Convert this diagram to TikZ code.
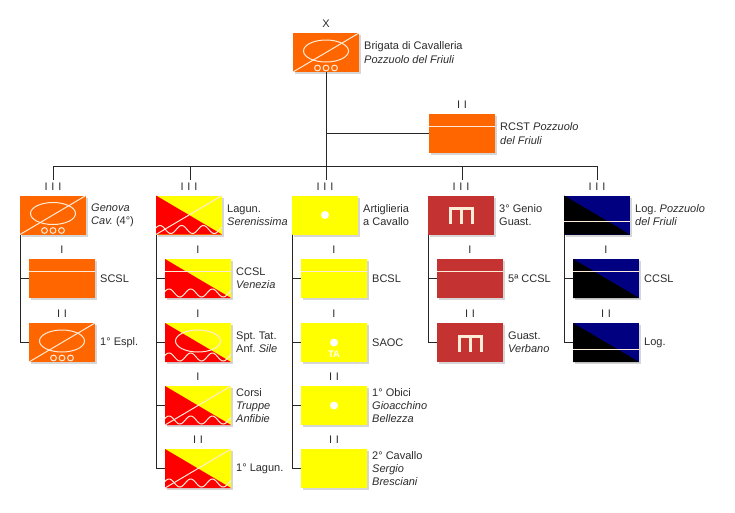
\documentclass[tikz,border=0pt]{standalone}
\usepackage{fontspec}
\setmainfont{Liberation Sans}
\definecolor{cavorange}{HTML}{FF6600}
\definecolor{lagred}{HTML}{FF0000}
\definecolor{artyellow}{HTML}{FFFF00}
\definecolor{genred}{HTML}{C43232}
\definecolor{lognavy}{HTML}{000080}
\definecolor{signline}{HTML}{FFECD8}
\definecolor{inktext}{HTML}{2B2B2B}
\newcommand{\echfont}{\fontsize{11}{13.4}\selectfont\spaceskip 3.8pt\relax}
\newcommand{\txtfont}{\fontsize{11}{13.4}\selectfont\frenchspacing}
\tikzset{
  unitbox/.style={minimum width=66pt,minimum height=39pt,inner sep=0pt,outer sep=0pt,fill=#1},
  shadowbox/.style={fill=black!16,minimum width=66pt,minimum height=39pt,inner sep=0pt,outer sep=0pt},
  unittext/.style={align=left,anchor=west,inner sep=0pt,text=inktext,font=\txtfont},
  echtext/.style={inner sep=0pt,text=inktext,font=\echfont},
  sign/.style={signline,line width=1pt},
  link/.style={black!85,line width=1pt}
}
% name, x, y, colour, echelon, text
\newcommand{\unitnode}[6]{
  \node[shadowbox] (#1-s) at ({#2+2},{#3+2}) {};
  \node[unitbox=#4] (#1) at (#2,#3) {};
  \node[echtext] (#1-e) at (#2,{#3-28.5}) {#5};
  \node[unittext] (#1-t) at ([xshift=5pt]#1.east) {#6};
}
\newcommand{\signdiag}[1]{\draw[sign] (#1.south west) -- (#1.north east);}
\newcommand{\signbar}[2]{\draw[sign] ([yshift=-#2pt]#1.north west) -- ([yshift=-#2pt]#1.north east);}
\newcommand{\signoval}[1]{\draw[sign] ([yshift=1.5pt]#1.center) ellipse (22.5pt and 11pt);}
\newcommand{\signwheels}[1]{
  \foreach \k in {-8.5,0,8.5}
    \draw[sign] ([xshift=\k pt,yshift=4pt]#1.south) circle (2.9pt);
}
\newcommand{\signwave}[1]{
  \draw[sign,shift={(#1.south west)},domain=0:66,samples=80] plot (\x,{-5-4*cos((\x-4)*16.59)});
}
\newcommand{\signtri}[2]{\fill[#2] (#1.north west) -- (#1.south east) -- (#1.south west) -- cycle;}
\newcommand{\signdot}[1]{\fill[white] (#1.center) circle (4pt);}
\newcommand{\signgenio}[1]{
  \draw[signline,line width=3pt] ([xshift=-11pt,yshift=-9pt]#1.center) -- ([xshift=-11pt,yshift=6.5pt]#1.center) -- ([xshift=11pt,yshift=6.5pt]#1.center) -- ([xshift=11pt,yshift=-9pt]#1.center);
  \draw[signline,line width=3pt] ([yshift=-9pt]#1.center) -- ([yshift=6.5pt]#1.center);
}
\begin{document}
\begin{tikzpicture}[x=1pt,y=-1pt]
  \useasboundingbox (0,0) rectangle (735,512);
  % command
  \unitnode{brigata}{326}{52.5}{cavorange}{X}{Brigata di Cavalleria\\\textit{Pozzuolo del Friuli}}
  \unitnode{rcst}{462}{133.5}{cavorange}{I I}{RCST \textit{Pozzuolo}\\\textit{del Friuli}}
  % regiments
  \unitnode{genova}{53}{215}{cavorange}{I I I}{\textit{Genova}\\\textit{Cav.} (4°)}
  \unitnode{lagun}{189}{215}{artyellow}{I I I}{Lagun.\\\textit{Serenissima}}
  \unitnode{art}{325}{215}{artyellow}{I I I}{Artiglieria\\a Cavallo}
  \unitnode{genio}{461}{215}{genred}{I I I}{3° Genio\\Guast.}
  \unitnode{log}{597}{215}{lognavy}{I I I}{Log. \textit{Pozzuolo}\\\textit{del Friuli}}
  % first column
  \unitnode{scsl}{62}{278.5}{cavorange}{I}{SCSL}
  \unitnode{espl}{62}{342.5}{cavorange}{I I}{1° Espl.}
  % second column
  \unitnode{ccslv}{198}{278.5}{artyellow}{I}{CCSL\\\textit{Venezia}}
  \unitnode{sile}{198}{342.5}{artyellow}{I}{Spt. Tat.\\Anf. \textit{Sile}}
  \unitnode{corsi}{198}{405.5}{artyellow}{I}{Corsi\\\textit{Truppe}\\\textit{Anfibie}}
  \unitnode{primo}{198}{468.5}{artyellow}{I I}{1° Lagun.}
  % third column
  \unitnode{bcsl}{334}{278.5}{artyellow}{I}{BCSL}
  \unitnode{saoc}{334}{342.5}{artyellow}{I}{SAOC}
  \unitnode{obici}{334}{405.5}{artyellow}{I I}{1° Obici\\\textit{Gioacchino}\\\textit{Bellezza}}
  \unitnode{cavallo}{334}{468.5}{artyellow}{I I}{2° Cavallo\\\textit{Sergio}\\\textit{Bresciani}}
  % fourth column
  \unitnode{ccslg}{470}{278.5}{genred}{I}{5ª CCSL}
  \unitnode{verbano}{470}{342.5}{genred}{I I}{Guast.\\\textit{Verbano}}
  % fifth column
  \unitnode{ccsll}{606}{278.5}{lognavy}{I}{CCSL}
  \unitnode{logb}{606}{342.5}{lognavy}{I I}{Log.}
  % signs
  \signdiag{brigata} \signoval{brigata} \signwheels{brigata}
  \signbar{rcst}{12}
  \signdiag{genova} \signoval{genova} \signwheels{genova}
  \signbar{scsl}{12}
  \signdiag{espl} \signoval{espl} \signwheels{espl}
  \signtri{lagun}{lagred} \signdiag{lagun} \signwave{lagun}
  \signtri{ccslv}{lagred} \signbar{ccslv}{12} \signwave{ccslv}
  \signtri{sile}{lagred} \signoval{sile} \signwave{sile}
  \signtri{corsi}{lagred} \signdiag{corsi} \signwave{corsi}
  \signtri{primo}{lagred} \signdiag{primo} \signwave{primo}
  \signdot{art}
  \signbar{bcsl}{12}
  \signdot{saoc}
  \node[inner sep=0pt,text=white,font=\fontsize{9.5}{9.5}\selectfont\bfseries] (saocta) at ([yshift=-12pt]saoc.center) {TA};
  \signdot{obici}
  \signgenio{genio}
  \signbar{ccslg}{12}
  \signgenio{verbano}
  \signtri{log}{black} \signbar{log}{26}
  \signtri{ccsll}{black} \signbar{ccsll}{12}
  \signtri{logb}{black} \signbar{logb}{26}
  % connectors
  \coordinate (busa) at (53,166);
  \coordinate (busb) at (190,166);
  \coordinate (busc) at (326,166);
  \coordinate (busd) at (462,166);
  \coordinate (buse) at (597,166);
  \coordinate (rcstjoin) at (326,133.5);
  \draw[link] (brigata) -- (busc);
  \draw[link] (busa) -- (buse);
  \draw[link] (rcstjoin) -- (rcst.west);
  \coordinate (stuba) at (53,180);
  \coordinate (stubb) at (190,180);
  \coordinate (stubc) at (326,180);
  \coordinate (stubd) at (462,180);
  \coordinate (stube) at (597,180);
  \draw[link] (busa) -- (stuba);
  \draw[link] (busb) -- (stubb);
  \draw[link] (busc) -- (stubc);
  \draw[link] (busd) -- (stubd);
  \draw[link] (buse) -- (stube);
  \draw[link] (genova.south west) |- (scsl.west);
  \draw[link] (genova.south west) |- (espl.west);
  \draw[link] (lagun.south west) |- (ccslv.west);
  \draw[link] (lagun.south west) |- (sile.west);
  \draw[link] (lagun.south west) |- (corsi.west);
  \draw[link] (lagun.south west) |- (primo.west);
  \draw[link] (art.south west) |- (bcsl.west);
  \draw[link] (art.south west) |- (saoc.west);
  \draw[link] (art.south west) |- (obici.west);
  \draw[link] (art.south west) |- (cavallo.west);
  \draw[link] (genio.south west) |- (ccslg.west);
  \draw[link] (genio.south west) |- (verbano.west);
  \draw[link] (log.south west) |- (ccsll.west);
  \draw[link] (log.south west) |- (logb.west);
\end{tikzpicture}
\end{document}
